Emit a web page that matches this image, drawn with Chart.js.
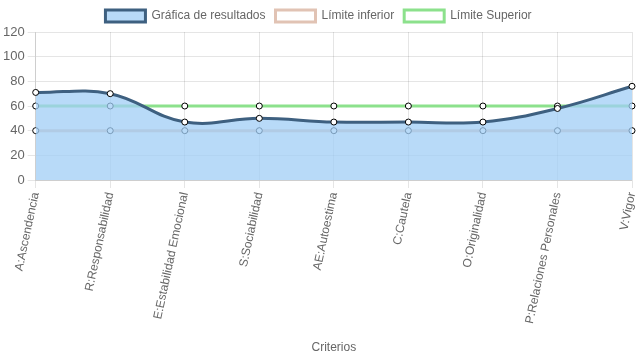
<!DOCTYPE html>
<html><head><meta charset="utf-8">
<script src="https://cdn.jsdelivr.net/npm/chart.js@4"></script>
<style>html,body{margin:0;padding:0;background:#fff}#w{width:637px;height:359px}</style>
</head><body><div id="w"><canvas id="c"></canvas></div>
<script>
const categories = ["A:Ascendencia","R:Responsabilidad","E:Estabilidad Emocional","S:Sociabilidad","AE:Autoestima","C:Cautela","O:Originalidad","P:Relaciones Personales","V:Vigor"];
const resultados = [71,70,47,50,47,47,47,58,76];
const limiteInferior = [40,40,40,40,40,40,40,40,40];
const limiteSuperior = [60,60,60,60,60,60,60,60,60];
const yTicks = {min:0,max:120,step:20};

Chart.defaults.font.family = 'Arial, "Liberation Sans", Helvetica, sans-serif';
new Chart(document.getElementById('c'), {
  type:'line',
  data:{
    labels:categories,
    datasets:[
      {label:'Gráfica de resultados',data:resultados,borderColor:'rgba(62,96,128,1)',backgroundColor:'rgba(160,205,245,0.75)',fill:'origin',tension:0.4,borderWidth:3,pointBackgroundColor:'#fff',pointBorderColor:'#000',pointRadius:3,pointBorderWidth:1},
      {label:'Límite inferior',data:limiteInferior,borderColor:'rgba(225,195,180,1)',backgroundColor:'#fff',fill:false,borderWidth:3,pointBackgroundColor:'#fff',pointBorderColor:'#000',pointRadius:3,pointBorderWidth:1},
      {label:'Límite Superior',data:limiteSuperior,borderColor:'rgba(140,225,140,1)',backgroundColor:'#fff',fill:false,borderWidth:3,pointBackgroundColor:'#fff',pointBorderColor:'#000',pointRadius:3,pointBorderWidth:1}
    ]
  },
  options:{
    responsive:true,maintainAspectRatio:false,animation:false,
    plugins:{legend:{labels:{color:'#666',font:{size:12}}}},
    scales:{
      x:{title:{display:true,text:'Criterios',color:'#666',padding:{top:4,bottom:4}},
         ticks:{color:'#666',font:{size:12},maxRotation:78,minRotation:78},
         grid:{color:'rgba(0,0,0,0.1)'},
         afterFit:(s)=>{s.paddingRight=4;s.height=179;}},
      y:{min:yTicks.min,max:yTicks.max,ticks:{stepSize:yTicks.step,color:'#666',font:{size:13}},grid:{color:'rgba(0,0,0,0.1)'}}
    }
  }
});
</script></body></html>
